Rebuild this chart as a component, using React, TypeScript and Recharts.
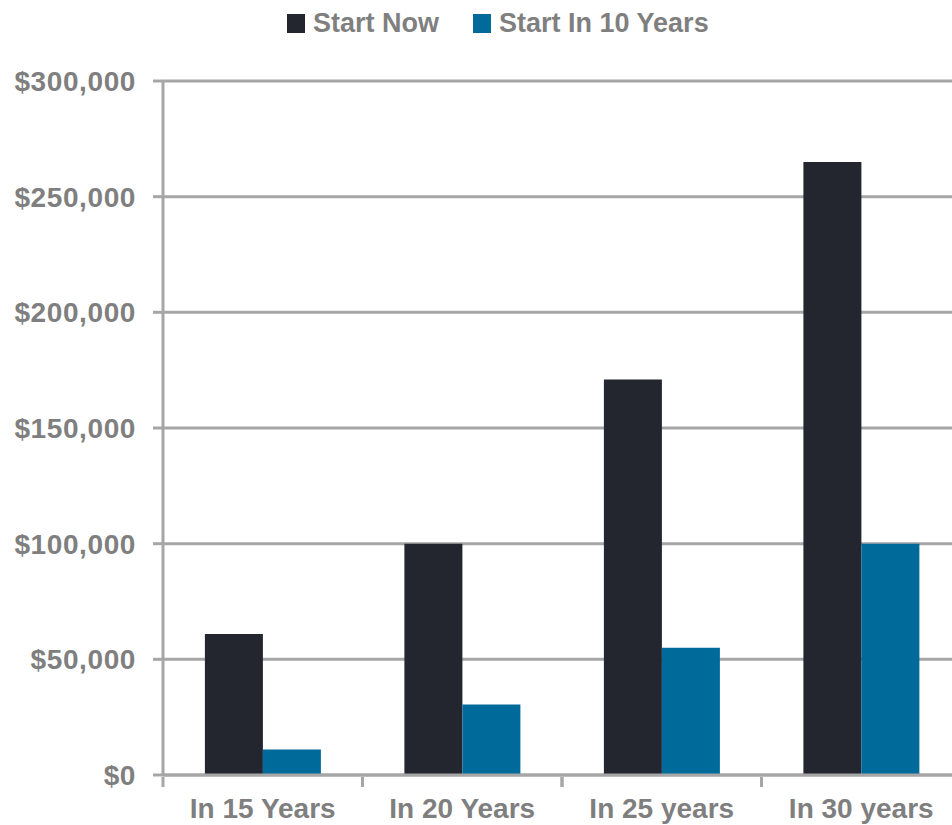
import React from "react";
import { BarChart, Bar, XAxis, YAxis, CartesianGrid } from "recharts";

const categories = ["In 15 Years", "In 20 Years", "In 25 years", "In 30 years"];
const startNow = [61000, 100000, 171000, 265000];
const startIn10 = [11000, 30500, 55000, 100000];
const yTicks = [0, 50000, 100000, 150000, 200000, 250000, 300000];

const seriesNames = ["Start Now", "Start In 10 Years"];
const seriesColors = ["#23252f", "#006a9b"];

const data = categories.map((name, i) => ({
  name,
  now: startNow[i],
  later: startIn10[i],
}));

const AXIS_GRAY = "#a6a6a6";
const TEXT_GRAY = "#7f7f7f";
const FONT = "'Liberation Sans', Arial, sans-serif";

const fmtMoney = (v: number) => "$" + v.toLocaleString("en-US");

// category label plus a short tick on the band boundaries
const CategoryTick = (props: any) => {
  const { x, y, payload } = props;
  const half = payload?.offset ?? 0;
  return (
    <g>
      <line x1={x - half} x2={x - half} y1={y - 8} y2={y + 2} stroke={AXIS_GRAY} strokeWidth={3} />
      <line x1={x + half} x2={x + half} y1={y - 8} y2={y + 2} stroke={AXIS_GRAY} strokeWidth={3} />
      <text
        x={x}
        y={y}
        dy={33}
        textAnchor="middle"
        fill={TEXT_GRAY}
        fontSize={28}
        fontWeight={700}
        fontFamily={FONT}
      >
        {payload.value}
      </text>
    </g>
  );
};

export default function App() {
  return (
    <div
      style={{
        position: "absolute",
        left: 0,
        top: 0,
        width: 952,
        height: 825,
        overflow: "hidden",
        background: "#fff",
        fontFamily: FONT,
      }}
    >
      {/* legend */}
      <div
        style={{
          position: "absolute",
          top: 8,
          left: 287,
          display: "flex",
          alignItems: "center",
          gap: 34,
          fontSize: 27,
          fontWeight: 700,
          color: TEXT_GRAY,
          lineHeight: "30px",
        }}
      >
        {seriesNames.map((n, i) => (
          <div key={n} style={{ display: "flex", alignItems: "center", gap: 8 }}>
            <span style={{ width: 18, height: 19, background: seriesColors[i], display: "block" }} />
            <span>{n}</span>
          </div>
        ))}
      </div>

      <BarChart
        width={965}
        height={825}
        data={data}
        margin={{ top: 81, right: 4, left: 0, bottom: 0 }}
        barCategoryGap="21%"
        barGap={0}
      >
        <CartesianGrid vertical={false} stroke={AXIS_GRAY} strokeWidth={3} />
        <XAxis
          dataKey="name"
          height={50}
          interval={0}
          axisLine={{ stroke: AXIS_GRAY, strokeWidth: 3 }}
          tickLine={false}
          tick={<CategoryTick />}
          tickMargin={0}
          tickSize={10}
        />
        <YAxis
          width={163}
          domain={[0, 300000]}
          ticks={yTicks}
          interval={0}
          tickFormatter={fmtMoney}
          axisLine={{ stroke: AXIS_GRAY, strokeWidth: 3 }}
          tickLine={{ stroke: AXIS_GRAY, strokeWidth: 3 }}
          tickSize={10}
          tickMargin={17}
          tick={{ fill: TEXT_GRAY, fontSize: 28, fontWeight: 700, fontFamily: FONT, letterSpacing: 0.6 }}
        />
        <Bar dataKey="now" name={seriesNames[0]} fill={seriesColors[0]} isAnimationActive={false} />
        <Bar dataKey="later" name={seriesNames[1]} fill={seriesColors[1]} isAnimationActive={false} />
      </BarChart>
    </div>
  );
}
